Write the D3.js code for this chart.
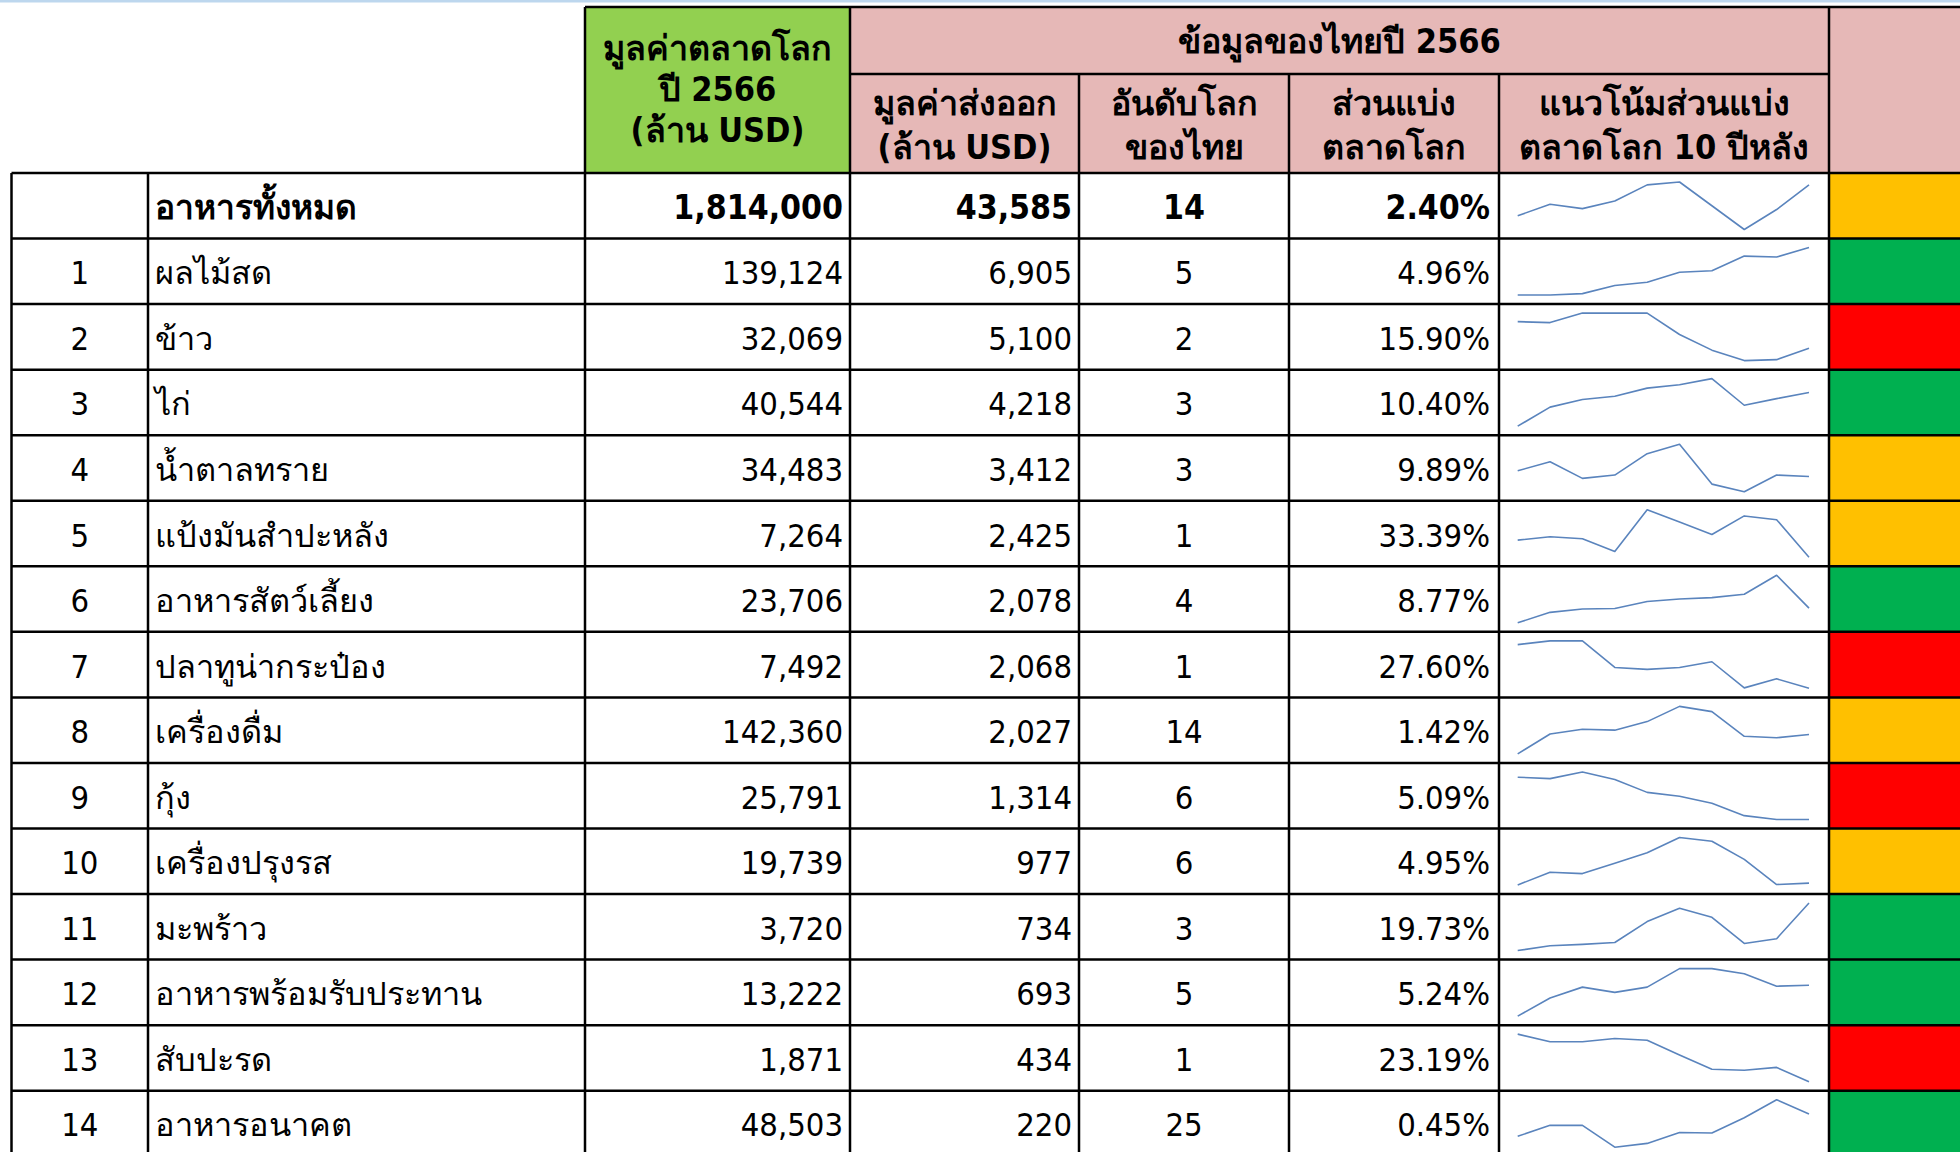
<!DOCTYPE html>
<html>
<head>
<meta charset="utf-8">
<script src="https://cdn.jsdelivr.net/npm/d3@7"></script>
<style>
  html, body { margin: 0; padding: 0; background: #fff; }
  svg { display: block; font-family: Tahoma, "DejaVu Sans Condensed", "DejaVu Sans", sans-serif; }
</style>
</head>
<body>
<div id="vis"></div>
<script>
(function() {
  var WIDTH = 1960, HEIGHT = 1152;

  // --- data ---
  var ranks = ['', '1', '2', '3', '4', '5', '6', '7', '8', '9', '10', '11', '12', '13', '14'];
  var products = ['อาหารทั้งหมด', 'ผลไม้สด', 'ข้าว', 'ไก่', 'น้ำตาลทราย', 'แป้งมันสำปะหลัง',
    'อาหารสัตว์เลี้ยง', 'ปลาทูน่ากระป๋อง', 'เครื่องดื่ม', 'กุ้ง', 'เครื่องปรุงรส', 'มะพร้าว',
    'อาหารพร้อมรับประทาน', 'สับปะรด', 'อาหารอนาคต'];
  var worldMarket = [1814000, 139124, 32069, 40544, 34483, 7264, 23706, 7492, 142360, 25791, 19739, 3720, 13222, 1871, 48503];
  var thaiExport = [43585, 6905, 5100, 4218, 3412, 2425, 2078, 2068, 2027, 1314, 977, 734, 693, 434, 220];
  var worldRank = [14, 5, 2, 3, 3, 1, 4, 1, 14, 6, 6, 3, 5, 1, 25];
  var marketShare = [2.40, 4.96, 15.90, 10.40, 9.89, 33.39, 8.77, 27.60, 1.42, 5.09, 4.95, 19.73, 5.24, 23.19, 0.45];
  var years = [2557, 2558, 2559, 2560, 2561, 2562, 2563, 2564, 2565, 2566];
  var shareTrend = [
    [29, 53, 44, 60, 94, 100, 50, 0, 42, 94],
    [0, 0, 3, 20, 27, 48, 51, 82, 80, 100],
    [82, 80, 100, 100, 100, 55, 22, 0, 2, 26],
    [0, 40, 56, 63, 80, 87, 100, 44, 58, 71],
    [44, 63, 28, 35, 80, 100, 16, 0, 35, 32],
    [36, 43, 39, 12, 100, 74, 48, 87, 79, 0],
    [0, 22, 29, 30, 45, 50, 53, 60, 100, 31],
    [92, 100, 100, 44, 40, 44, 56, 1, 20, 0],
    [0, 42, 52, 50, 68, 100, 89, 37, 34, 41],
    [89, 86, 100, 84, 57, 49, 34, 8, 0, 0],
    [0, 27, 24, 46, 68, 100, 92, 54, 1, 4],
    [0, 10, 13, 17, 61, 89, 70, 15, 25, 100],
    [0, 38, 61, 50, 61, 100, 100, 89, 63, 65],
    [100, 84, 84, 91, 87, 56, 26, 24, 30, 0],
    [23, 46, 46, 0, 8, 31, 30, 62, 100, 70]
  ];
  var status = ['yellow', 'green', 'red', 'green', 'yellow', 'yellow', 'green', 'red',
    'yellow', 'red', 'yellow', 'green', 'green', 'red', 'green'];

  var statusColor = { yellow: '#FFC000', green: '#00B050', red: '#FF0000' };
  var fmt = d3.format(',');

  // column edges
  var cols = [11.5, 148, 585, 850, 1079, 1289, 1499, 1829, 1990];
  var HEAD_TOP = 7, HEAD_MID = 74, HEAD_BOT = 173, ROW_H = 65.55;
  var PAD = 7;

  var svg = d3.select('#vis').append('svg:svg').attr('width', WIDTH).attr('height', HEIGHT);

  var y = d3.scaleBand().domain(d3.range(products.length))
    .range([HEAD_BOT, HEAD_BOT + ROW_H * products.length]);

  // light blue strip at very top
  svg.append('rect').attr('x', 0).attr('y', 0).attr('width', WIDTH).attr('height', 2.5).attr('fill', '#BDD7EE');

  // header fills
  var head = svg.append('g');
  head.append('rect').attr('x', cols[2]).attr('y', HEAD_TOP).attr('width', cols[3] - cols[2])
    .attr('height', HEAD_BOT - HEAD_TOP).attr('fill', '#92D050');
  head.append('rect').attr('x', cols[3]).attr('y', HEAD_TOP).attr('width', cols[8] - cols[3])
    .attr('height', HEAD_BOT - HEAD_TOP).attr('fill', '#E6B8B7');

  // status fills
  svg.append('g').selectAll('rect').data(status).enter().append('rect')
    .attr('x', cols[7]).attr('y', function(d, i) { return y(i); })
    .attr('width', cols[8] - cols[7]).attr('height', y.bandwidth())
    .attr('fill', function(d) { return statusColor[d]; });

  // header text
  var headText = [
    { x: (cols[2] + cols[3]) / 2, y: 48, lines: ['มูลค่าตลาดโลก', 'ปี 2566', '(ล้าน USD)'], dy: 41 },
    { x: (cols[3] + cols[7]) / 2, y: 41, lines: ['ข้อมูลของไทยปี 2566'], dy: 0 },
    { x: (cols[3] + cols[4]) / 2, y: 103, lines: ['มูลค่าส่งออก', '(ล้าน USD)'], dy: 44 },
    { x: (cols[4] + cols[5]) / 2, y: 103, lines: ['อันดับโลก', 'ของไทย'], dy: 44 },
    { x: (cols[5] + cols[6]) / 2, y: 103, lines: ['ส่วนแบ่ง', 'ตลาดโลก'], dy: 44 },
    { x: (cols[6] + cols[7]) / 2, y: 103, lines: ['แนวโน้มส่วนแบ่ง', 'ตลาดโลก 10 ปีหลัง'], dy: 44 }
  ];
  headText.forEach(function(h) {
    var t = head.append('text').attr('text-anchor', 'middle').attr('font-weight', 'bold')
      .attr('font-size', 34).attr('fill', '#000');
    h.lines.forEach(function(l, i) {
      t.append('tspan').attr('x', h.x).attr('y', h.y + i * h.dy).attr('dominant-baseline', 'central').text(l);
    });
  });

  // body text
  var body = svg.append('g').attr('fill', '#000');
  var rows = body.selectAll('g.row').data(products).enter().append('g')
    .attr('class', 'row')
    .attr('transform', function(d, i) { return 'translate(0,' + (y(i) + y.bandwidth() / 2 + 2) + ')'; })
    .attr('font-size', function(d, i) { return i === 0 ? 33.5 : 32.5; })
    .attr('font-weight', function(d, i) { return i === 0 ? 'bold' : 'normal'; });

  function cell(x, anchor, fn) {
    rows.append('text').attr('x', x).attr('text-anchor', anchor)
      .attr('dominant-baseline', 'central').text(fn);
  }
  cell((cols[0] + cols[1]) / 2, 'middle', function(d, i) { return ranks[i]; });
  cell(cols[1] + PAD, 'start', function(d) { return d; });
  cell(cols[3] - PAD, 'end', function(d, i) { return fmt(worldMarket[i]); });
  cell(cols[4] - PAD, 'end', function(d, i) { return fmt(thaiExport[i]); });
  cell((cols[4] + cols[5]) / 2, 'middle', function(d, i) { return worldRank[i]; });
  cell(cols[6] - PAD - 2, 'end', function(d, i) { return marketShare[i].toFixed(2) + '%'; });

  // sparklines
  var sx = d3.scalePoint().domain(years).range([cols[6] + 18.7, cols[7] - 20]);
  var spark = svg.append('g');
  shareTrend.forEach(function(vals, i) {
    var sy = d3.scaleLinear().domain(d3.extent(vals)).range([y(i) + 56.5, y(i) + 9]);
    var line = d3.line().x(function(d, k) { return sx(years[k]); }).y(function(d) { return sy(d); });
    spark.append('path').attr('d', line(vals)).attr('fill', 'none')
      .attr('stroke', '#5A84BD').attr('stroke-width', 1.6).attr('stroke-linejoin', 'round');
  });

  // grid lines
  var grid = svg.append('g').attr('stroke', '#000').attr('stroke-width', 2.5);
  var bodyBottom = HEAD_BOT + ROW_H * products.length;
  // horizontal
  grid.append('line').attr('x1', cols[2]).attr('x2', WIDTH).attr('y1', HEAD_TOP).attr('y2', HEAD_TOP);
  grid.append('line').attr('x1', cols[3]).attr('x2', cols[7]).attr('y1', HEAD_MID).attr('y2', HEAD_MID);
  grid.selectAll('line.h').data(d3.range(products.length + 1)).enter().append('line')
    .attr('class', 'h')
    .attr('x1', cols[0]).attr('x2', WIDTH)
    .attr('y1', function(i) { return HEAD_BOT + i * ROW_H; })
    .attr('y2', function(i) { return HEAD_BOT + i * ROW_H; });
  // vertical
  grid.selectAll('line.vb').data(cols.slice(0, 8)).enter().append('line')
    .attr('class', 'vb')
    .attr('x1', function(d) { return d; }).attr('x2', function(d) { return d; })
    .attr('y1', HEAD_BOT).attr('y2', bodyBottom);
  grid.selectAll('line.vh').data([cols[2], cols[3], cols[7]]).enter().append('line')
    .attr('x1', function(d) { return d; }).attr('x2', function(d) { return d; })
    .attr('y1', HEAD_TOP).attr('y2', HEAD_BOT);
  grid.selectAll('line.vs').data([cols[4], cols[5], cols[6]]).enter().append('line')
    .attr('x1', function(d) { return d; }).attr('x2', function(d) { return d; })
    .attr('y1', HEAD_MID).attr('y2', HEAD_BOT);
})();
</script>
</body>
</html>
